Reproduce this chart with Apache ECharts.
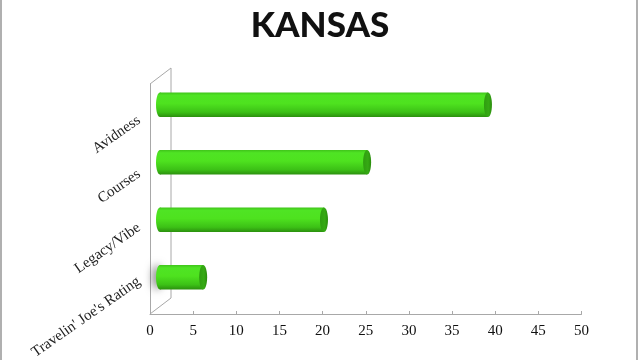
<!DOCTYPE html>
<html>
<head>
<meta charset="utf-8">
<script src="https://cdn.jsdelivr.net/npm/echarts@6/dist/echarts.min.js"></script>
<style>
html,body{margin:0;padding:0;background:#fff;}
#chart{width:640px;height:360px;}
</style>
</head>
<body>
<div id="chart"></div>
<script>
// Data
const titleText = 'KANSAS';
const categories = ["Travelin' Joe's Rating", 'Legacy/Vibe', 'Courses', 'Avidness'];
const values = [5, 19, 24, 38];
const xTicks = [0, 5, 10, 15, 20, 25, 30, 35, 40, 45, 50];

const chart = echarts.init(document.getElementById('chart'));

// layout
const G0 = {left: 150, top: 84, width: 431.5, height: 230};   // front (axis) plane
const DX = 21, DY = 16;                                          // 3D depth
const G1 = {left: 160, top: 76, width: 431.5, height: 230};     // bar plane (mid depth)
const G2 = {left: 150, top: 92, width: 431.5, height: 230};     // category label placement

const serif = '"Liberation Serif", "DejaVu Serif", serif';

function renderBar(params, api) {
  const cat = api.value(0);
  const val = api.value(1);
  const start = api.coord([0, cat]);
  const end = api.coord([val, cat]);
  const band = api.size([0, 1])[1];
  const h = band * 0.43;
  const rx = 4;
  const y0 = start[1] - h / 2;
  const grad = new echarts.graphic.LinearGradient(0, 0, 0, 1, [
    {offset: 0, color: '#3fc31a'},
    {offset: 0.12, color: '#4fe424'},
    {offset: 0.45, color: '#4ee21f'},
    {offset: 0.8, color: '#3cc116'},
    {offset: 1, color: '#2b8f0e'}
  ]);
  const leftStyle = {fill: grad};
  if (params.dataIndex === 0) {
    leftStyle.shadowBlur = 8;
    leftStyle.shadowColor = 'rgba(0,0,0,0.55)';
    leftStyle.shadowOffsetX = -3;
  }
  return {
    type: 'group',
    children: [
      {type: 'ellipse', shape: {cx: start[0], cy: start[1], rx: rx, ry: h / 2}, style: leftStyle},
      {type: 'rect', shape: {x: start[0], y: y0, width: end[0] - start[0], height: h}, style: {fill: grad}},
      {type: 'ellipse', shape: {cx: end[0], cy: end[1], rx: rx, ry: h / 2},
        style: {fill: new echarts.graphic.LinearGradient(0, 0, 1, 0, [
          {offset: 0, color: '#2f9d10'}, {offset: 0.6, color: '#36aa14'}, {offset: 1, color: '#2a8c0d'}
        ])}}
    ]
  };
}

const wallColor = '#a8a8a8';

chart.setOption({
  animation: false,
  backgroundColor: '#ffffff',
  title: {
    text: titleText,
    left: 'center',
    top: 3,
    textStyle: {fontFamily: 'Lato', fontWeight: 900, fontSize: 35, color: '#111'}
  },
  grid: [
    {left: G0.left, top: G0.top, width: G0.width, height: G0.height},
    {left: G1.left, top: G1.top, width: G1.width, height: G1.height},
    {left: G2.left, top: G2.top, width: G2.width, height: G2.height}
  ],
  xAxis: [
    {
      gridIndex: 0, type: 'value', min: 0, max: 50, interval: 5,
      axisLine: {show: true, lineStyle: {color: wallColor, width: 1}},
      axisTick: {show: true, inside: true, length: 3, lineStyle: {color: wallColor}},
      splitLine: {show: false},
      axisLabel: {
        margin: 10, color: '#111', fontFamily: serif, fontSize: 15,
        formatter: function (v) { return xTicks.indexOf(v) >= 0 ? String(v) : ''; }
      }
    },
    {gridIndex: 1, type: 'value', min: 0, max: 50, show: false},
    {gridIndex: 2, type: 'value', min: 0, max: 50, show: false}
  ],
  yAxis: [
    {
      gridIndex: 0, type: 'category', data: categories,
      axisLine: {show: true, lineStyle: {color: wallColor}},
      axisTick: {show: false},
      axisLabel: {show: false}
    },
    {gridIndex: 1, type: 'category', data: categories, show: false},
    {
      gridIndex: 2, type: 'category', data: categories,
      axisLine: {show: false}, axisTick: {show: false}, splitLine: {show: false},
      axisLabel: {rotate: 35, margin: 11, color: '#222', fontFamily: serif, fontSize: 15}
    }
  ],
  graphic: [
    {type: 'rect', shape: {x: 0, y: 0, width: 2, height: 360}, style: {fill: '#b0b0b0'}, silent: true},
    {type: 'rect', shape: {x: 636, y: 0, width: 2, height: 360}, style: {fill: '#b0b0b0'}, silent: true},
    {type: 'polyline', silent: true, shape: {points: [
      [G0.left, G0.top], [G0.left + DX, G0.top - DY], [G0.left + DX, G0.top + G0.height - DY], [G0.left, G0.top + G0.height]
    ]}, style: {stroke: wallColor, lineWidth: 1, fill: null}}
  ],
  series: [{
    type: 'custom',
    xAxisIndex: 1, yAxisIndex: 1,
    renderItem: renderBar,
    encode: {x: 1, y: 0},
    data: categories.map((c, i) => [i, values[i]]),
    z: 5
  }]
});
</script>
</body>
</html>
